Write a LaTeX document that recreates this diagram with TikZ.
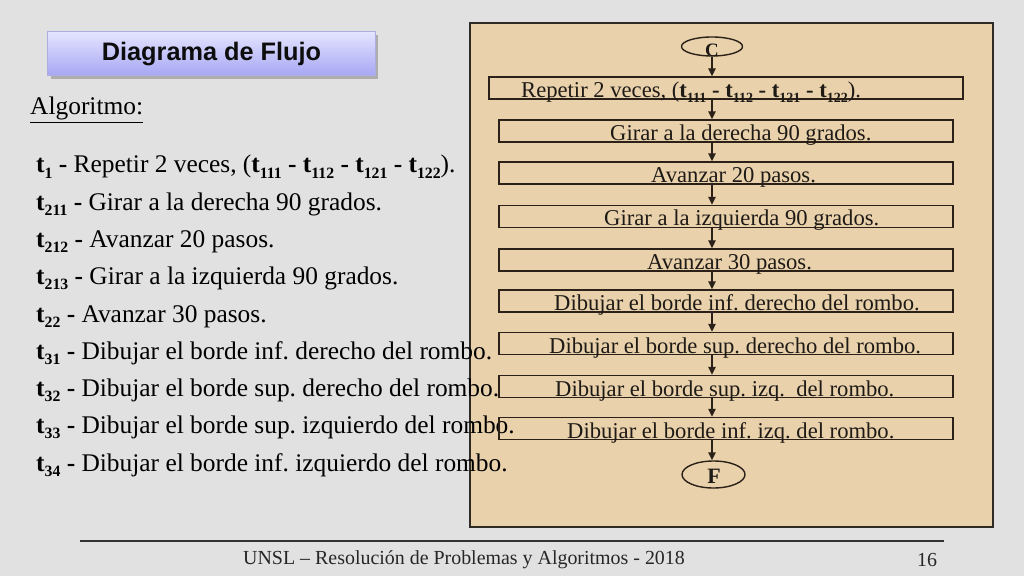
\documentclass[tikz,border=0pt]{standalone}
\usepackage{fontspec}
\usepackage{graphicx}
\setmainfont{Liberation Serif}
\newfontfamily\arialfont{Liberation Sans}
\usetikzlibrary{arrows.meta,shapes.geometric,shadows}
\definecolor{bgc}{HTML}{E1E1E1}
\definecolor{panelc}{HTML}{E9D1AC}
\definecolor{panelline}{HTML}{2E2A26}
\definecolor{boxline}{HTML}{2B2118}
\definecolor{flowtext}{HTML}{1E1A16}
\definecolor{titletop}{HTML}{E4E4FF}
\definecolor{titlebot}{HTML}{A6A6F4}
\definecolor{titleline}{HTML}{ADADE0}
\newcommand\tsb[1]{\textbf{t}\raisebox{-0.2em}{\scalebox{0.62}{\textbf{#1}}}}
\newcommand\listsize{\fontsize{25.5}{30}\selectfont}
\newcommand\flowsize{\fontsize{22.7}{26}\selectfont}
\newcommand\footsize{\fontsize{20}{24}\selectfont}
\frenchspacing
\begin{document}
\begin{tikzpicture}[x=1bp,y=-1bp,
  listitem/.style={anchor=base west,inner sep=0pt,font=\listsize,text=black},
  flowlabel/.style={anchor=base west,inner sep=0pt,font=\flowsize,text=flowtext},
  flowbox/.style={draw=boxline,line width=1.4bp,rectangle,inner sep=0pt,minimum height=22bp},
  termnode/.style={draw=boxline,line width=1.4bp,ellipse,inner sep=0pt},
  termlabel/.style={anchor=base,inner sep=0pt,text=flowtext},
  flowarrow/.style={draw=boxline,line width=1.4bp,-{Triangle[length=8bp,width=7.5bp]}},
  foottext/.style={anchor=base west,inner sep=0pt,font=\footsize,text=black!85}
]
\useasboundingbox (0,0) rectangle (1024,576);
\fill[bgc] (0,0) rectangle (1024,576);

% title
\node[draw=titleline,line width=1bp,top color=titletop,bottom color=titlebot,
      minimum width=327bp,minimum height=44bp,inner sep=0pt,
      drop shadow={shadow xshift=3bp,shadow yshift=-3bp,fill=black!40,opacity=0.7},
      font=\arialfont\fontsize{25.4}{30}\selectfont\bfseries,text=black!95]
  (title) at (211.5,54) {Diagrama de Flujo};

% Algoritmo
\node[listitem] (algo) at (30,115) {\underline{Algoritmo:}};

% list
\node[listitem] (l1) at (36,173) {\tsb{1}\textbf{ - }Repetir 2 veces, (\tsb{111}\textbf{ - }\tsb{112}\textbf{ - }\tsb{121}\textbf{ - }\tsb{122}).};
\node[listitem] (l2) at (36,210.25) {\tsb{211}\textbf{ - }Girar a la derecha 90 grados.};
\node[listitem] (l3) at (36,247.5) {\tsb{212}\textbf{ - }Avanzar 20 pasos.};
\node[listitem] (l4) at (36,284.75) {\tsb{213}\textbf{ - }Girar a la izquierda 90 grados.};
\node[listitem] (l5) at (36,322) {\tsb{22}\textbf{ - }Avanzar 30 pasos.};

% panel
\node[draw=panelline,fill=panelc,line width=1.6bp,rectangle,inner sep=0pt,
      minimum width=523bp,minimum height=504bp] (panel) at (731.5,275) {};

% list items overlapping the panel
\node[listitem] (l6) at (36,359.25) {\tsb{31}\textbf{ - }Dibujar el borde inf. derecho del rombo.};
\node[listitem] (l7) at (36,396.5) {\tsb{32}\textbf{ - }Dibujar el borde sup. derecho del rombo.};
\node[listitem] (l8) at (36,433.75) {\tsb{33}\textbf{ - }Dibujar el borde sup. izquierdo del rombo.};
\node[listitem] (l9) at (36,471) {\tsb{34}\textbf{ - }Dibujar el borde inf. izquierdo del rombo.};

% flowchart
\node[termnode,minimum width=61bp,minimum height=19bp] (c) at (712,46.5) {};
\node[termlabel,font=\fontsize{19}{22}\selectfont\bfseries] (clab) at (712,57) {C};

\node[flowbox,minimum width=474bp] (b1) at (726,88) {};
\node[flowbox,minimum width=454bp] (b2) at (726,131) {};
\node[flowbox,minimum width=454bp] (b3) at (726,173) {};
\node[flowbox,minimum width=454bp] (b4) at (726,216.5) {};
\node[flowbox,minimum width=454bp] (b5) at (726,260) {};
\node[flowbox,minimum width=454bp] (b6) at (726,301) {};
\node[flowbox,minimum width=454bp] (b7) at (726,343.5) {};
\node[flowbox,minimum width=454bp] (b8) at (726,386.5) {};
\node[flowbox,minimum width=454bp] (b9) at (726,428.5) {};

\node[termnode,minimum width=63bp,minimum height=27bp] (f) at (713.5,474.5) {};
\node[termlabel,font=\fontsize{22}{26}\selectfont\bfseries] (flab) at (714,483.5) {F};

\node[flowlabel] (t1) at (521,97.5) {Repetir 2 veces, (\tsb{111}\textbf{ - }\tsb{112}\textbf{ - }\tsb{121}\textbf{ - }\tsb{122}).};
\node[flowlabel] (t2) at (610,140.5) {Girar a la derecha 90 grados.};
\node[flowlabel] (t3) at (651,182.5) {Avanzar 20 pasos.};
\node[flowlabel] (t4) at (604,226) {Girar a la izquierda 90 grados.};
\node[flowlabel] (t5) at (647,269.5) {Avanzar 30 pasos.};
\node[flowlabel] (t6) at (554,310.5) {Dibujar el borde inf. derecho del rombo.};
\node[flowlabel] (t7) at (549,353) {Dibujar el borde sup. derecho del rombo.};
\node[flowlabel] (t8) at (555,396) {Dibujar el borde sup. izq.\ \ del rombo.};
\node[flowlabel] (t9) at (567,438) {Dibujar el borde inf. izq. del rombo.};

\draw[flowarrow] (c.south) -- (c.south |- b1.north);
\draw[flowarrow] (b1.south -| c) -- (b2.north -| c);
\draw[flowarrow] (b2.south -| c) -- (b3.north -| c);
\draw[flowarrow] (b3.south -| c) -- (b4.north -| c);
\draw[flowarrow] (b4.south -| c) -- (b5.north -| c);
\draw[flowarrow] (b5.south -| c) -- (b6.north -| c);
\draw[flowarrow] (b6.south -| c) -- (b7.north -| c);
\draw[flowarrow] (b7.south -| c) -- (b8.north -| c);
\draw[flowarrow] (b8.south -| c) -- (b9.north -| c);
\draw[flowarrow] (b9.south -| c) -- (f.north -| c);

% footer
\coordinate (fl) at (80,541);
\coordinate (fr) at (944,541);
\draw[black!80,line width=1.2bp] (fl) -- (fr);
\node[foottext] (foot) at (243,564) {UNSL – Resolución de Problemas y Algoritmos - 2018};
\node[foottext] (page) at (917,566) {16};
\end{tikzpicture}
\end{document}
